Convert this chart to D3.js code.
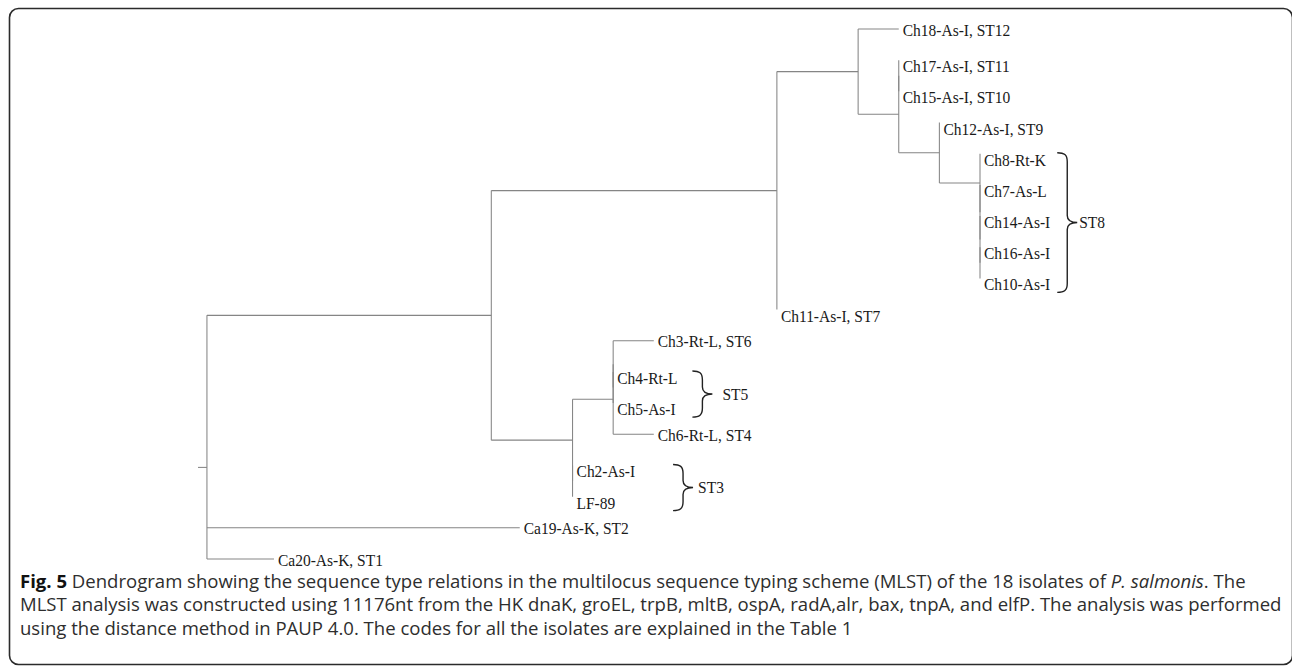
<!DOCTYPE html>
<html><head><meta charset="utf-8">
<script src="https://cdn.jsdelivr.net/npm/d3@7"></script>
<style>body{margin:0;background:#fff}svg{display:block}</style>
</head><body>
<svg id="chart" width="1292" height="666"></svg>
<script>
// Tree topology: [node, parent, branch length]
const treeEdges = [
  ["root", null, 0.22],
  ["nE", "root", 7],
  ["nF", "nE", 7.03],
  ["nA", "nF", 2],
  ["Ch18-As-I, ST12", "nA", 1],
  ["nB", "nA", 1],
  ["nB1", "nB", 0],
  ["Ch17-As-I, ST11", "nB1", 0],
  ["Ch15-As-I, ST10", "nB1", 0],
  ["nC", "nB", 1],
  ["Ch12-As-I, ST9", "nC", 0],
  ["nD", "nC", 1],
  ["Ch8-Rt-K", "nD", 0],
  ["nD1", "nD", 0],
  ["Ch7-As-L", "nD1", 0],
  ["nD2", "nD1", 0],
  ["Ch14-As-I", "nD2", 0],
  ["nD3", "nD2", 0],
  ["Ch16-As-I", "nD3", 0],
  ["Ch10-As-I", "nD3", 0],
  ["Ch11-As-I, ST7", "nF", 0],
  ["nG", "nE", 2],
  ["nH", "nG", 1],
  ["nH1", "nH", 0],
  ["Ch3-Rt-L, ST6", "nH1", 1],
  ["nH2", "nH1", 0],
  ["Ch4-Rt-L", "nH2", 0],
  ["Ch5-As-I", "nH2", 0],
  ["Ch6-Rt-L, ST4", "nH", 1],
  ["nI", "nG", 0],
  ["Ch2-As-I", "nI", 0],
  ["LF-89", "nI", 0],
  ["Ca19-As-K, ST2", "root", 7.7],
  ["Ca20-As-K, ST1", "root", 1.65]
];

// Sequence-type groups: [label, first leaf, last leaf]
const stGroups = [
  ["ST8", "Ch8-Rt-K", "Ch10-As-I"],
  ["ST5", "Ch4-Rt-L", "Ch5-As-I"],
  ["ST3", "Ch2-As-I", "LF-89"]
];

// Caption lines: [text, style]
const captionLine1 = [["Fig. 5", "bold"], [" Dendrogram showing the sequence type relations in the multilocus sequence typing scheme (MLST) of the 18 isolates of ", "normal"], ["P. salmonis", "italic"], [". The", "normal"]];
const captionLine2 = [["MLST analysis was constructed using 11176nt from the HK dnaK, groEL, trpB, mltB, ospA, radA,alr, bax, tnpA, and elfP. The analysis was performed", "normal"]];
const captionLine3 = [["using the distance method in PAUP 4.0. The codes for all the isolates are explained in the Table 1", "normal"]];

// layout constants for the brace annotations
const braceLayout = {ST8: {gap: 7, textGap: 2}, ST5: {gap: 15, textGap: 10}, ST3: {gap: 38, textGap: 5}};

const svg = d3.select("#chart");

// frame
svg.append("rect").attr("x", 9.5).attr("y", 8.5).attr("width", 1283).attr("height", 656)
  .attr("rx", 9).attr("fill", "none").attr("stroke", "#2b2b2b").attr("stroke-width", 1.6);

const root = d3.stratify().id(d => d[0]).parentId(d => d[1])(treeEdges);
root.eachBefore(n => { n.dist = (n.parent ? n.parent.dist : 0) + n.data[2]; });
const leaves = root.leaves();
const y = d3.scalePoint().domain(leaves.map(l => l.id)).range([29, 559]);
root.eachAfter(n => { n.yy = n.children ? d3.mean(n.children, c => c.yy) : y(n.id); });
const x = d3.scaleLinear().domain([0, d3.max(root.descendants(), n => n.dist)]).range([198, 980]);

const g = svg.append("g").attr("stroke", "#858585").attr("stroke-width", 1.05).attr("fill", "none");
// root stub
g.append("line").attr("x1", x(0)).attr("x2", x(root.dist)).attr("y1", root.yy).attr("y2", root.yy);
// horizontal branches
g.selectAll("line.h").data(root.descendants().filter(n => n.parent && n.data[2] > 0)).join("line")
  .attr("class", "h")
  .attr("x1", n => x(n.parent.dist)).attr("x2", n => x(n.dist))
  .attr("y1", n => n.yy).attr("y2", n => n.yy);
// vertical connectors
g.selectAll("line.v").data(root.descendants().filter(n => n.children)).join("line")
  .attr("class", "v")
  .attr("x1", n => x(n.dist)).attr("x2", n => x(n.dist))
  .attr("y1", n => d3.min(n.children, c => c.yy)).attr("y2", n => d3.max(n.children, c => c.yy));

// leaf labels
const labelFont = "'Liberation Serif', 'Times New Roman', serif";
const baseOff = n => n.data[2] > 0 ? 6.5 : 12;
const lab = svg.append("g").attr("font-family", labelFont).attr("font-size", 15.5).attr("fill", "#1a1a1a");
const labelNodes = lab.selectAll("text").data(leaves).join("text")
  .attr("transform", n => `translate(${x(n.dist) + 4},${n.yy + baseOff(n)}) scale(1,1.1)`)
  .text(n => n.id);
const labelEnd = {};
labelNodes.each(function(n) { labelEnd[n.id] = x(n.dist) + 4 + this.getComputedTextLength(); });

// braces
const br = svg.append("g");
stGroups.forEach(([name, first, last]) => {
  const i0 = leaves.findIndex(l => l.id === first), i1 = leaves.findIndex(l => l.id === last);
  const members = leaves.slice(i0, i1 + 1);
  const x0 = d3.max(members, m => labelEnd[m.id]) + braceLayout[name].gap;
  const yT = y(first) - 1, yB = y(last) + 14, ym = (yT + yB) / 2;
  const x1 = x0 + 10, xt = x1 + 10;
  const p = d3.path();
  p.moveTo(x0, yT);
  p.bezierCurveTo(x0 + 7, yT, x1, yT + 2, x1, yT + 9);
  p.lineTo(x1, ym - 7);
  p.bezierCurveTo(x1, ym - 2, x1 + 3, ym, xt, ym);
  p.bezierCurveTo(x1 + 3, ym, x1, ym + 2, x1, ym + 7);
  p.lineTo(x1, yB - 9);
  p.bezierCurveTo(x1, yB - 2, x0 + 7, yB, x0, yB);
  br.append("path").attr("d", p.toString()).attr("fill", "none").attr("stroke", "#222").attr("stroke-width", 1.4);
  br.append("text").attr("transform", `translate(${xt + braceLayout[name].textGap},${ym + 5.5}) scale(1,1.1)`)
    .attr("font-family", labelFont).attr("font-size", 15.5).attr("fill", "#1a1a1a").text(name);
});

// caption
const cap = svg.append("g").attr("font-family", "'Open Sans', 'Noto Sans', sans-serif").attr("fill", "#2e2e2e");
const capLines = [captionLine1, captionLine2, captionLine3];
const baselines = [587.5, 611, 635];
const texts = capLines.map((segs, i) => {
  const t = cap.append("text").attr("x", 20).attr("y", baselines[i]).attr("font-size", 17);
  segs.forEach(([s, st]) => {
    const ts = t.append("tspan").text(s);
    if (st === "bold") ts.attr("font-weight", "bold").attr("fill", "#111");
    if (st === "italic") ts.attr("font-style", "italic");
  });
  return t;
});
const w2 = texts[1].node().getComputedTextLength();
const fs = 17 * 1262 / w2;
texts.forEach(t => t.attr("font-size", fs));
</script>
</body></html>
